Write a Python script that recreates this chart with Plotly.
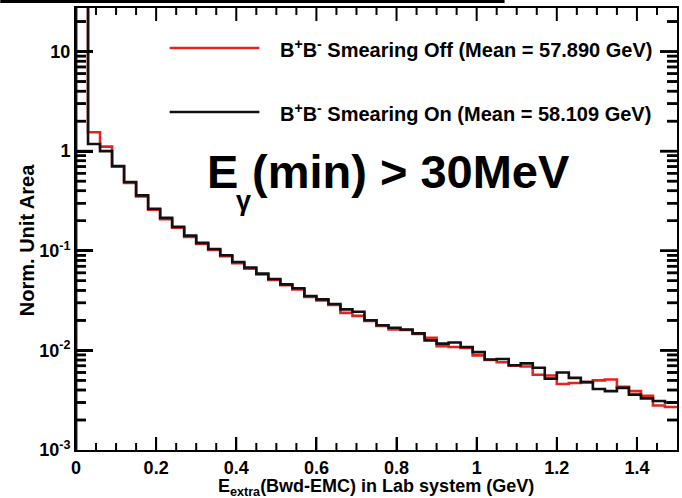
import plotly.graph_objects as go

# Histogram binning: 50 bins of 30 MeV from 0 to 1.5 GeV
bin_width = 0.03
n_bins = 50
bin_edges = [round(i * bin_width, 4) for i in range(n_bins + 1)]

# Normalised bin contents, smearing off (red)
smear_off = [30.0, 1.55, 1.11, 0.70, 0.48, 0.35, 0.258, 0.208, 0.170, 0.138,
             0.117, 0.102, 0.088, 0.075, 0.066, 0.058, 0.051, 0.045, 0.041, 0.0343,
             0.0318, 0.0285, 0.0238, 0.0222, 0.0198, 0.0176, 0.0162, 0.0160, 0.0146, 0.0134,
             0.0110, 0.0108, 0.0106, 0.0089, 0.0080, 0.0076, 0.0070, 0.0069, 0.0057, 0.0056,
             0.0046, 0.0047, 0.0048, 0.0050, 0.0051, 0.0043, 0.0039, 0.0035, 0.0028, 0.0027]

# Normalised bin contents, smearing on (black)
smear_on = [30.0, 1.18, 1.00, 0.71, 0.49, 0.36, 0.264, 0.214, 0.174, 0.142,
            0.120, 0.104, 0.090, 0.077, 0.068, 0.059, 0.052, 0.046, 0.042, 0.0351,
            0.0325, 0.0292, 0.0258, 0.0244, 0.0201, 0.0179, 0.0169, 0.0162, 0.0148, 0.0126,
            0.0117, 0.0120, 0.0108, 0.0096, 0.0081, 0.0082, 0.0071, 0.0074, 0.0067, 0.0052,
            0.0060, 0.0053, 0.0048, 0.0041, 0.0039, 0.0042, 0.0036, 0.0033, 0.0031, 0.0030]

legend_labels = ["B<sup>+</sup>B<sup>-</sup> Smearing Off (Mean = 57.890 GeV)",
                 "B<sup>+</sup>B<sup>-</sup> Smearing On (Mean = 58.109 GeV)"]
colors = ["#e3231f", "#111111"]

X_RANGE = [0, 1.5]
Y_LOG_RANGE = [-3, 1.437]
y_tickvals = [1e-3, 1e-2, 1e-1, 1, 10]
y_ticktext = ["10<sup>-3</sup>", "10<sup>-2</sup>", "10<sup>-1</sup>", "1", "10"]
y_minor = [m * 10.0 ** e for e in range(-3, 2) for m in range(2, 10) if m * 10.0 ** e < 27]

x_tickvals = [0, 0.2, 0.4, 0.6, 0.8, 1.0, 1.2, 1.4]
x_ticktext = ["0", "0.2", "0.4", "0.6", "0.8", "1", "1.2", "1.4"]
x_minor = [round(0.05 * i, 3) for i in range(1, 30) if i % 4]

FONT = "Liberation Sans, Arial, Helvetica, sans-serif"
W, H = 682, 498
ML, MR, MT, MB = 76, 3, 8, 48
PW, PH = W - ML - MR, H - MT - MB


def px_x(p):
    return (p - ML) / PW


def px_y(p):
    return 1 - (p - MT) / PH


def step_trace(values, color):
    xs = [bin_edges[0]] + bin_edges
    ys = [1e-5] + values + [values[-1]]
    return go.Scatter(x=xs, y=ys, mode="lines", line=dict(shape="hv", color=color, width=2.6),
                      showlegend=False, hoverinfo="skip")


def y_tick_trace(vals, length_px):
    # short horizontal strokes on the left and right frame edges
    dx = length_px / PW * (X_RANGE[1] - X_RANGE[0])
    xs, ys = [], []
    for v in vals:
        xs += [X_RANGE[0], X_RANGE[0] + dx, None, X_RANGE[1] - dx, X_RANGE[1], None]
        ys += [v, v, None, v, v, None]
    return go.Scatter(x=xs, y=ys, mode="lines", line=dict(color="black", width=2.5),
                      showlegend=False, hoverinfo="skip", connectgaps=False)


fig = go.Figure()
fig.add_trace(y_tick_trace(y_tickvals[1:], 17))
fig.add_trace(y_tick_trace(y_minor, 10))
fig.add_trace(step_trace(smear_off, colors[0]))
fig.add_trace(step_trace(smear_on, colors[1]))

axis_common = dict(showline=True, linecolor="black", linewidth=2, mirror=True,
                   ticks="inside", tickcolor="black", showgrid=False, zeroline=False,
                   tickfont=dict(family=FONT, size=18, color="black", weight="bold"))

fig.update_xaxes(range=X_RANGE, tickmode="array", tickvals=x_tickvals, ticktext=x_ticktext,
                 ticklen=13, tickwidth=2, **axis_common)
fig.update_yaxes(type="log", range=Y_LOG_RANGE, tickmode="array", tickvals=y_tickvals,
                 ticktext=y_ticktext, ticklen=17, tickwidth=2.5, **axis_common)

annotations = []
shapes = []

# Inward tick marks on the bottom and top frame edges
tick_line = dict(color="black", width=2)
for vals, length in ((x_tickvals[1:], 13), (x_minor, 7)):
    for v in vals:
        shapes.append(dict(type="line", xref="x", yref="paper", ysizemode="pixel", yanchor=0,
                           x0=v, x1=v, y0=0, y1=length, line=tick_line))
        shapes.append(dict(type="line", xref="x", yref="paper", ysizemode="pixel", yanchor=1,
                           x0=v, x1=v, y0=0, y1=-length, line=tick_line))

# Inward tick marks on the left and right frame edges, in data coordinates
y_tick_line = dict(color="black", width=2.5)
for vals, length in ((y_tickvals[1:], 17), (y_minor, 10)):
    dx = length / PW * (X_RANGE[1] - X_RANGE[0])
    for v in vals:
        shapes.append(dict(type="line", xref="x", yref="y", x0=X_RANGE[0], x1=X_RANGE[0] + dx,
                           y0=v, y1=v, line=y_tick_line))
        shapes.append(dict(type="line", xref="x", yref="y", x0=X_RANGE[1] - dx, x1=X_RANGE[1],
                           y0=v, y1=v, line=y_tick_line))

# Legend entries drawn as line samples with labels
for i, (lab, col) in enumerate(zip(legend_labels, colors)):
    yp = px_y(48 + 64 * i)
    shapes.append(dict(type="line", xref="paper", yref="paper", x0=px_x(170), x1=px_x(260),
                       y0=yp, y1=yp, line=dict(color=col, width=2.6)))
    annotations.append(dict(xref="paper", yref="paper", x=px_x(279), y=yp, xanchor="left",
                            yanchor="middle", showarrow=False, text=lab,
                            font=dict(family=FONT, size=20, color="black", weight="bold")))

# Photon energy threshold label: E, subscript gamma, and the cut value
big_font = dict(family=FONT, size=47, color="black", weight="bold")
annotations.append(dict(xref="paper", yref="paper", x=px_x(205), y=px_y(171), xanchor="left",
                        yanchor="middle", showarrow=False, text="E", font=big_font))
annotations.append(dict(xref="paper", yref="paper", x=px_x(244), y=px_y(201), xanchor="center",
                        yanchor="middle", showarrow=False, text="γ",
                        font=dict(family=FONT, size=27, color="black", weight="bold")))
annotations.append(dict(xref="paper", yref="paper", x=px_x(251), y=px_y(171), xanchor="left",
                        yanchor="middle", showarrow=False, text="(min) > 30MeV", font=big_font))

# Axis titles
annotations.append(dict(xref="paper", yref="paper", x=px_x(377), y=px_y(488), xanchor="center",
                        yanchor="middle", showarrow=False,
                        text="E<sub>extra</sub>(Bwd-EMC) in Lab system (GeV)",
                        font=dict(family=FONT, size=18, color="black", weight="bold")))
annotations.append(dict(xref="paper", yref="paper", x=px_x(27), y=px_y(240), xanchor="center",
                        yanchor="middle", showarrow=False, textangle=-90,
                        text="Norm. Unit Area",
                        font=dict(family=FONT, size=20, color="black", weight="bold")))

# Dark rule along the upper page edge
shapes.append(dict(type="rect", xref="paper", yref="paper", x0=px_x(0), x1=px_x(506),
                   y0=px_y(3), y1=px_y(0), fillcolor="black", line=dict(width=0)))

fig.update_layout(width=W, height=H, margin=dict(l=ML, r=MR, t=MT, b=MB),
                  paper_bgcolor="white", plot_bgcolor="white",
                  annotations=annotations, shapes=shapes, showlegend=False)

fig.write_html("out.html")
